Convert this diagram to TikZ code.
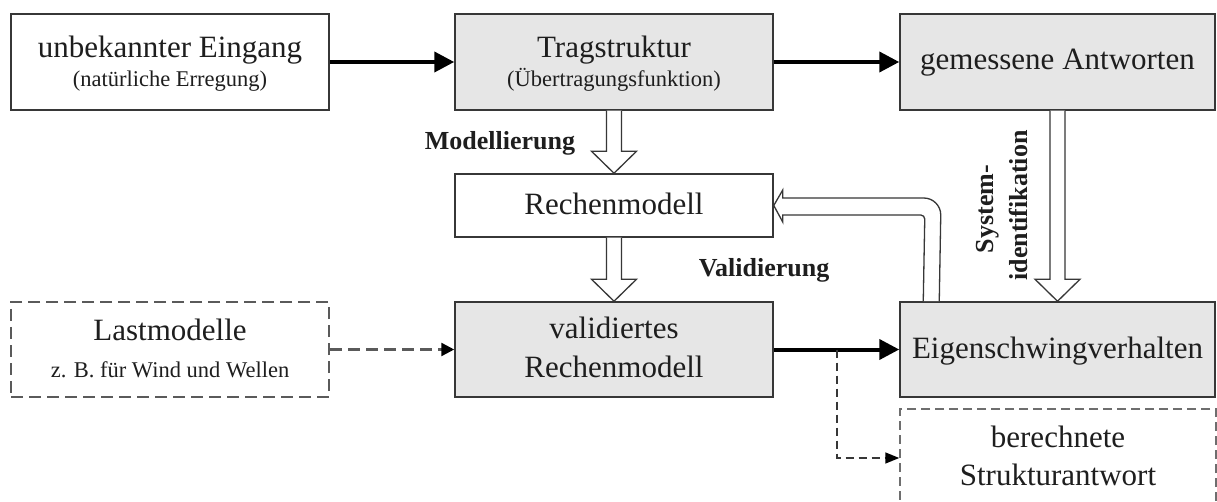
\documentclass[tikz,border=0pt]{standalone}
\usepackage{fontspec}
\setmainfont{Liberation Serif}
\usetikzlibrary{arrows.meta,calc}
\definecolor{boxgray}{RGB}{230,230,230}
\definecolor{edge}{RGB}{55,55,55}
\definecolor{txt}{RGB}{30,30,30}
\definecolor{dashgray}{RGB}{90,90,90}
\definecolor{lightdash}{RGB}{110,110,110}
\tikzset{
 box/.style={draw=edge, line width=1.5pt, inner sep=0pt, minimum width=318pt, minimum height=96pt},
 graybox/.style={box, fill=boxgray},
 dashbox/.style={box, draw=dashgray, line width=2pt, dash pattern=on 12pt off 6pt},
 lightbox/.style={box, draw=lightdash, line width=1.5pt, dash pattern=on 9pt off 5pt},
 big/.style={font=\fontsize{31}{36}\selectfont, text=txt, anchor=base, inner sep=0pt},
 small/.style={font=\fontsize{22.5}{26}\selectfont, text=txt, anchor=base, inner sep=0pt},
 lbl/.style={font=\bfseries\fontsize{26}{30}\selectfont, text=txt, anchor=base, inner sep=0pt},
 mainarrow/.style={draw=black, line width=4pt, -{Triangle[length=20pt,width=20pt]}},
 dasharrow/.style={draw=dashgray, line width=2.5pt, dash pattern=on 12pt off 6pt, -{Triangle[length=13pt,width=13pt,color=black]}},
 brancharrow/.style={draw=edge, line width=1.5pt, dash pattern=on 8pt off 5pt, -{Triangle[length=14pt,width=11pt,color=black]}},
 hollow/.style={draw=edge, fill=white, line width=1.3pt, line join=miter},
}
\newcommand\hollowdown[2]{\draw[hollow] ($(#1)+(-7.5,0)$) -- ($(#2)+(-7.5,-22)$) -- ($(#2)+(-22.5,-22)$) -- (#2) -- ($(#2)+(22.5,-22)$) -- ($(#2)+(7.5,-22)$) -- ($(#1)+(7.5,0)$);}
\begin{document}
\begin{tikzpicture}[x=1pt,y=-1pt]
\clip (0,0) rectangle (1217,502);
\fill[white] (0,0) rectangle (1217,502);
% boxes
\node[box] (A) at (170,62) {};
\node[graybox] (B) at (614,62) {};
\node[graybox, minimum width=315pt] (C) at (1057.5,62) {};
\node[box, minimum height=63pt] (D) at (614,205.5) {};
\node[dashbox, minimum height=95pt] (L) at (170,349.5) {};
\node[graybox, minimum height=95pt] (E) at (614,349.5) {};
\node[graybox, minimum width=315pt, minimum height=95pt] (F) at (1057.5,349.5) {};
\node[lightbox, minimum width=316pt, minimum height=98pt] (G) at (1058,458) {};
% texts
\node[big] (tA1) at (170,58) {unbekannter Eingang};
\node[small] (tA2) at (170,87) {(natürliche Erregung)};
\node[big] (tB1) at (614,58) {Tragstruktur};
\node[small] (tB2) at (614,87) {(Übertragungsfunktion)};
\node[big] (tC) at (1057.5,70) {gemessene Antworten};
\node[big] (tD) at (614,215) {Rechenmodell};
\node[big] (tL1) at (170,340) {Lastmodelle};
\node[small] (tL2) at (170,377) {z. B. für Wind und Wellen};
\node[big] (tE1) at (614,338) {validiertes};
\node[big] (tE2) at (614,377) {Rechenmodell};
\node[big] (tF) at (1057.5,358) {Eigenschwingverhalten};
\node[big] (tG1) at (1058,447) {berechnete};
\node[big] (tG2) at (1058,485) {Strukturantwort};
\node[lbl] (lM) at (500,150) {Modellierung};
\node[lbl] (lV) at (764,277) {Validierung};
\node[lbl, rotate=90] (lS1) at (993,209) {System-};
\node[lbl, rotate=90] (lS2) at (1027,205.5) {identifikation};
% solid arrows
\draw[mainarrow] (A.east) -- (B.west);
\draw[mainarrow] (B.east) -- (C.west);
\draw[mainarrow] (E.east) -- (F.west);
% dashed arrows
\draw[dasharrow] (L.east) -- (E.west);
\coordinate (br) at (837,349.5);
\draw[brancharrow] (br) |- (G.west);
% hollow arrows
\hollowdown{B.south}{D.north}
\hollowdown{D.south}{E.north}
\hollowdown{C.south}{F.north}
\coordinate (r0) at ($(F.north west)+(24,0)$);
\coordinate (r1) at ($(F.north west)+(40,0)$);
\draw[hollow] (r0) -- ($(D.east)+(151,13.5)$) .. controls ($(D.east)+(151,11.3)$) and ($(D.east)+(149.2,9.5)$) .. ($(D.east)+(147,9.5)$) -- ($(D.east)+(9,9.5)$) -- ($(D.east)+(9,16.5)$) -- (D.east) -- ($(D.east)+(9,-15.5)$) -- ($(D.east)+(9,-7.5)$) -- ($(D.east)+(150,-7.5)$) .. controls ($(D.east)+(159.4,-7.5)$) and ($(D.east)+(167,0.1)$) .. ($(D.east)+(167,9.5)$) -- (r1);
\end{tikzpicture}
\end{document}
